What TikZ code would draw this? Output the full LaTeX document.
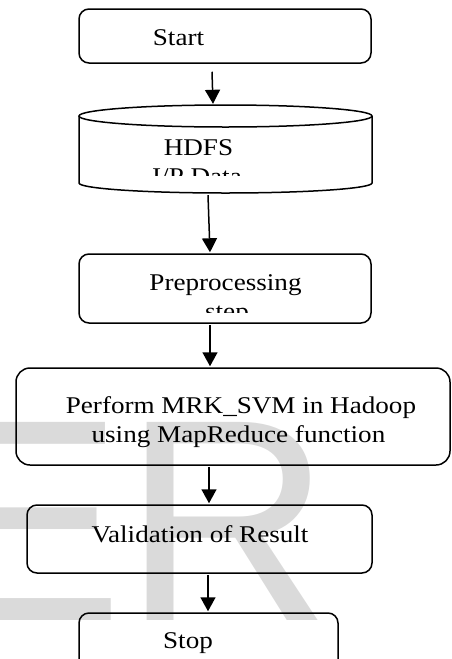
\documentclass[tikz,border=0pt]{standalone}
\usepackage{fontspec}
\setmainfont[FakeStretch=1.13]{Liberation Serif}
\newfontfamily\wmfont{Liberation Sans}
\usetikzlibrary{arrows.meta,calc}
\definecolor{wm}{RGB}{218,218,218}
\tikzset{
  box/.style={draw=black, line width=1.5pt, rounded corners=10pt, inner sep=0pt},
  cyl/.style={draw=black, line width=1.5pt},
  lbl/.style={inner sep=0pt, anchor=base, font=\fontsize{24}{29}\selectfont},
  arr/.style={line width=1.5pt, -{Triangle[length=14pt,width=15pt]}},
}
\begin{document}
\begin{tikzpicture}[x=1pt,y=-1pt]
\useasboundingbox (0,0) rectangle (452,659);
% watermark
\node[inner sep=0pt, anchor=base west, text=wm,
      font=\wmfont\fontsize{288}{288}\selectfont] (wmark) at (-69,620) {ER};
% boxes
\node[box, minimum width=292pt, minimum height=54pt] (start) at (225,36) {};
\node[minimum width=293pt, minimum height=88pt, inner sep=0pt] (hdfs) at (225.5,149) {};
\draw[cyl] (225.5,116) ellipse [x radius=146.5pt, y radius=11pt];
\draw[cyl] (79,116) -- (79,183) arc[start angle=180, end angle=360, x radius=146.5pt, y radius=10pt] -- (372,116);
\node[box, minimum width=292pt, minimum height=69pt] (prep) at (225,288.5) {};
\node[box, rounded corners=14pt, minimum width=434pt, minimum height=97pt] (perf) at (233,416.5) {};
\node[box, minimum width=345pt, minimum height=68pt] (val) at (199.5,539) {};
\node[box, minimum width=259pt, minimum height=77pt] (stop) at (208.5,651.5) {};
% texts
\node[lbl] (tstart) at (178.5,45) {Start};
\node[lbl] (thdfs) at (198.5,155) {HDFS};
\begin{scope}
  \clip (0,0) rectangle (452,175);
  \node[lbl] (tinput) at (197,184) {I/P Data};
\end{scope}
\node[lbl] (tprep) at (225.5,290) {Preprocessing};
\begin{scope}
  \clip (0,0) rectangle (452,312);
  \node[lbl] (tstep) at (227,319) {step};
\end{scope}
\node[lbl] (tperf1) at (241,413) {Perform MRK\_SVM in Hadoop};
\node[lbl] (tperf2) at (238.5,442) {using MapReduce function};
\node[lbl] (tval) at (200,542) {Validation of Result};
\node[lbl] (tstop) at (188,648) {Stop};
% arrows
\draw[arr] ($(start.south)+(-13,8)$) -- ($(hdfs.north)+(-12.5,-1)$);
\draw[arr] ($(hdfs.south)+(-17.5,2)$) -- ($(prep.north)+(-15,-1)$);
\draw[arr] ($(prep.south)+(-15,1)$) -- ($(perf.north)+(-23,-1)$);
\draw[arr] ($(perf.south)+(-24,1)$) -- ($(val.north)+(9.5,-1)$);
\draw[arr] ($(val.south)+(8.5,1)$) -- ($(stop.north)+(-0.5,-1)$);
\end{tikzpicture}
\end{document}
